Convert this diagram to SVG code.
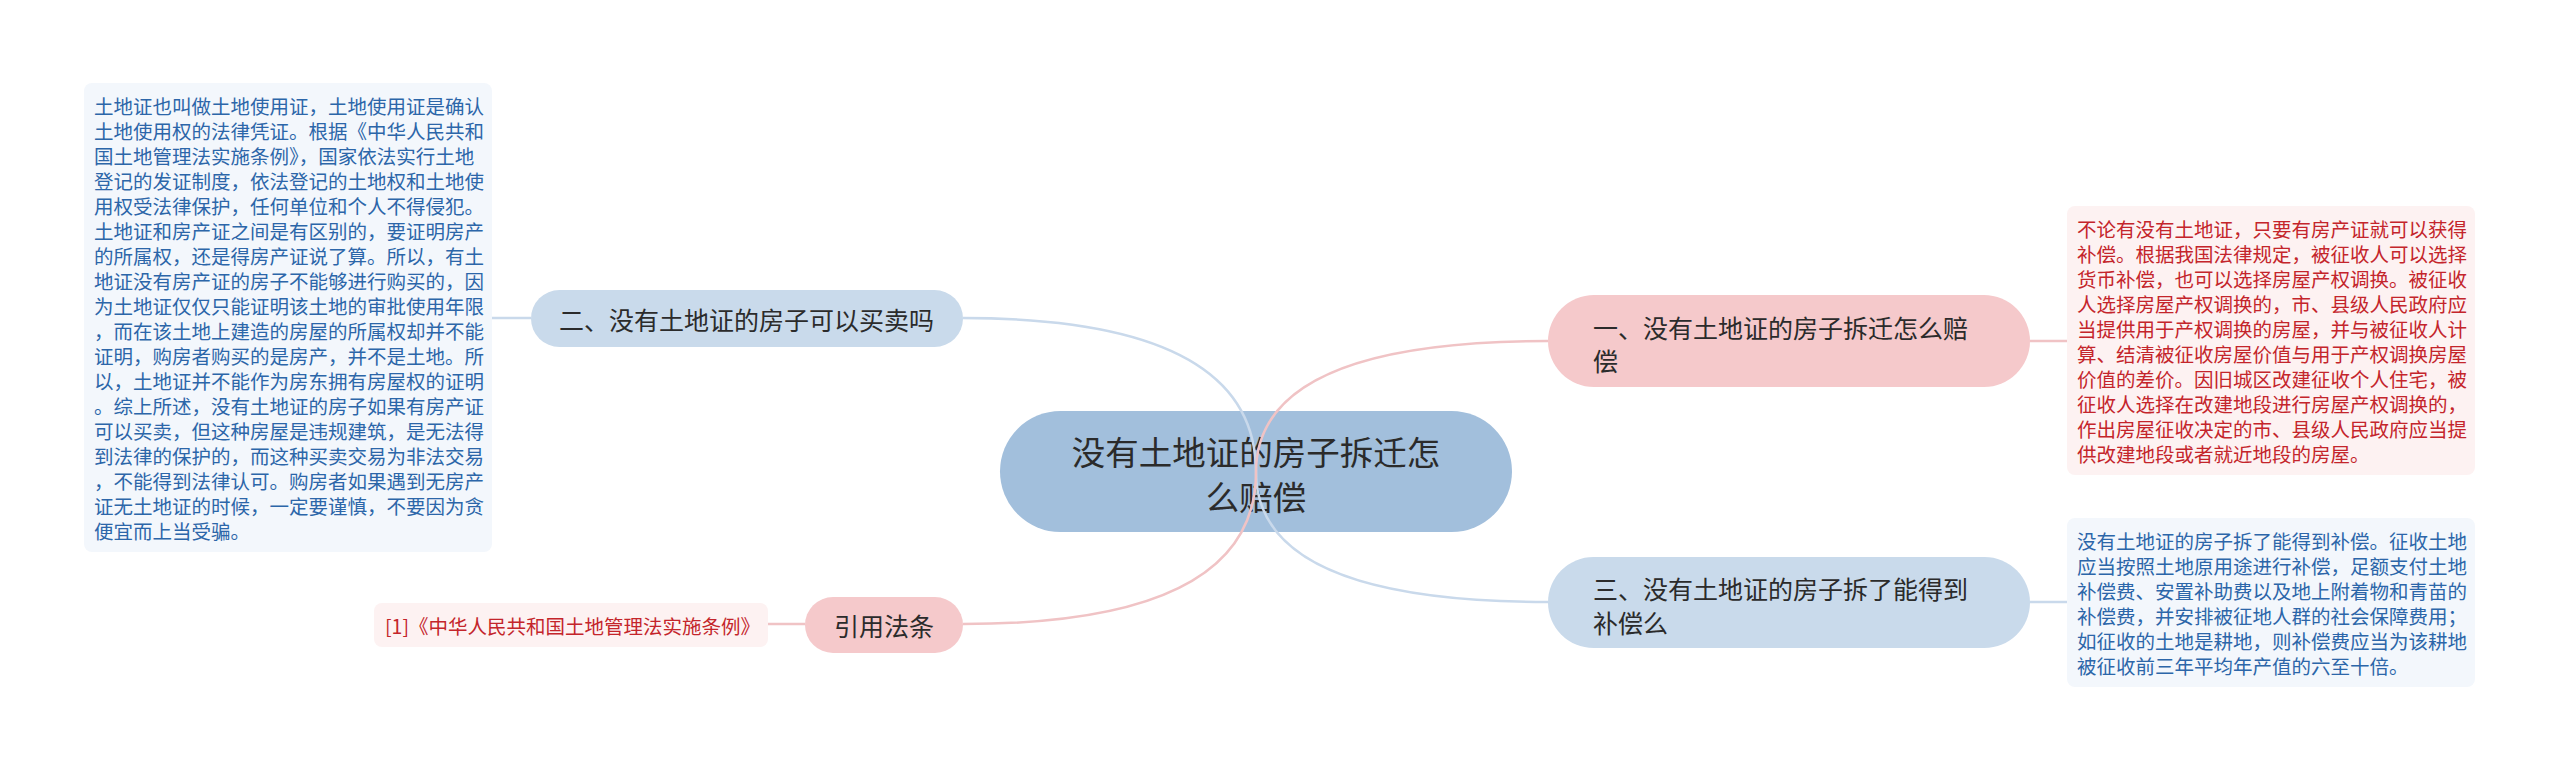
<svg xmlns="http://www.w3.org/2000/svg" width="2560" height="771" viewBox="0 0 2560 771">
<style>
text{font-family:"Noto Sans CJK SC","Noto Sans",sans-serif;}
.nt{fill:#2b2b2b;font-size:25px;}
.rt{fill:#2b2b2b;font-size:33.5px;}
.bt{fill:#2c66a9;font-size:19.5px;}
.pt{fill:#c4252b;font-size:19.5px;}
.cb{fill:none;stroke:#c9d9eb;stroke-width:2.5;}
.cr{fill:none;stroke:#f0c3c5;stroke-width:2.5;}
.bbox{fill:#f3f7fc;}
.pbox{fill:#fdf2f2;}
</style>
<rect width="2560" height="771" fill="#ffffff"/>
<g id="root">
<rect x="1000" y="411" width="512" height="121" rx="60.5" fill="#a2bfdc"/>
<text class="rt" x="1256" y="450" text-anchor="middle" dominant-baseline="central">没有土地证的房子拆迁怎</text>
<text class="rt" x="1256" y="495" text-anchor="middle" dominant-baseline="central">么赔偿</text>
</g>
<g id="connectors">
<path class="cb" d="M1256 472 Q1256 318 963 318"/>
<path class="cb" d="M1256 472 Q1256 602 1548 602"/>
<path class="cr" d="M1256 472 Q1256 341 1548 341"/>
<path class="cr" d="M1256 472 Q1256 624 963 624"/>
<path class="cb" d="M492 318 H531"/>
<path class="cr" d="M768 624 H805"/>
<path class="cr" d="M2030 341 H2067"/>
<path class="cb" d="M2030 602 H2067"/>
</g>
<g id="node-2">
<rect x="531" y="290" width="432" height="57" rx="28.5" fill="#c9daeb"/>
<text class="nt" x="559" y="319" dominant-baseline="central">二、没有土地证的房子可以买卖吗</text>
</g>
<g id="node-2-detail">
<rect class="bbox" x="84" y="83" width="408" height="469" rx="8"/>
<text class="bt" x="94" dominant-baseline="central">
<tspan x="94" y="105">土地证也叫做土地使用证，土地使用证是确认</tspan>
<tspan x="94" y="130">土地使用权的法律凭证。根据《中华人民共和</tspan>
<tspan x="94" y="155">国土地管理法实施条例》，国家依法实行土地</tspan>
<tspan x="94" y="180">登记的发证制度，依法登记的土地权和土地使</tspan>
<tspan x="94" y="205">用权受法律保护，任何单位和个人不得侵犯。</tspan>
<tspan x="94" y="230">土地证和房产证之间是有区别的，要证明房产</tspan>
<tspan x="94" y="255">的所属权，还是得房产证说了算。所以，有土</tspan>
<tspan x="94" y="280">地证没有房产证的房子不能够进行购买的，因</tspan>
<tspan x="94" y="305">为土地证仅仅只能证明该土地的审批使用年限</tspan>
<tspan x="94" y="330">，而在该土地上建造的房屋的所属权却并不能</tspan>
<tspan x="94" y="355">证明，购房者购买的是房产，并不是土地。所</tspan>
<tspan x="94" y="380">以，土地证并不能作为房东拥有房屋权的证明</tspan>
<tspan x="94" y="405">。综上所述，没有土地证的房子如果有房产证</tspan>
<tspan x="94" y="430">可以买卖，但这种房屋是违规建筑，是无法得</tspan>
<tspan x="94" y="455">到法律的保护的，而这种买卖交易为非法交易</tspan>
<tspan x="94" y="480">，不能得到法律认可。购房者如果遇到无房产</tspan>
<tspan x="94" y="505">证无土地证的时候，一定要谨慎，不要因为贪</tspan>
<tspan x="94" y="530">便宜而上当受骗。</tspan>
</text>
</g>
<g id="node-ref">
<rect x="805" y="597" width="158" height="56" rx="28" fill="#f5c9cb"/>
<text class="nt" x="884" y="625" text-anchor="middle" dominant-baseline="central">引用法条</text>
</g>
<g id="node-ref-detail">
<rect class="pbox" x="374" y="603" width="394" height="44" rx="8"/>
<text class="pt" x="385" y="625" dominant-baseline="central">[1]《中华人民共和国土地管理法实施条例》</text>
</g>
<g id="node-1">
<rect x="1548" y="295" width="482" height="92" rx="46" fill="#f5c9cb"/>
<text class="nt" x="1593" y="327" dominant-baseline="central">一、没有土地证的房子拆迁怎么赔</text>
<text class="nt" x="1593" y="360" dominant-baseline="central">偿</text>
</g>
<g id="node-1-detail">
<rect class="pbox" x="2067" y="206" width="408" height="269" rx="8"/>
<text class="pt" dominant-baseline="central">
<tspan x="2077" y="228">不论有没有土地证，只要有房产证就可以获得</tspan>
<tspan x="2077" y="253">补偿。根据我国法律规定，被征收人可以选择</tspan>
<tspan x="2077" y="278">货币补偿，也可以选择房屋产权调换。被征收</tspan>
<tspan x="2077" y="303">人选择房屋产权调换的，市、县级人民政府应</tspan>
<tspan x="2077" y="328">当提供用于产权调换的房屋，并与被征收人计</tspan>
<tspan x="2077" y="353">算、结清被征收房屋价值与用于产权调换房屋</tspan>
<tspan x="2077" y="378">价值的差价。因旧城区改建征收个人住宅，被</tspan>
<tspan x="2077" y="403">征收人选择在改建地段进行房屋产权调换的，</tspan>
<tspan x="2077" y="428">作出房屋征收决定的市、县级人民政府应当提</tspan>
<tspan x="2077" y="453">供改建地段或者就近地段的房屋。</tspan>
</text>
</g>
<g id="node-3">
<rect x="1548" y="557" width="482" height="91" rx="45.5" fill="#c9daeb"/>
<text class="nt" x="1593" y="588" dominant-baseline="central">三、没有土地证的房子拆了能得到</text>
<text class="nt" x="1593" y="622" dominant-baseline="central">补偿么</text>
</g>
<g id="node-3-detail">
<rect class="bbox" x="2067" y="518" width="408" height="169" rx="8"/>
<text class="bt" dominant-baseline="central">
<tspan x="2077" y="540">没有土地证的房子拆了能得到补偿。征收土地</tspan>
<tspan x="2077" y="565">应当按照土地原用途进行补偿，足额支付土地</tspan>
<tspan x="2077" y="590">补偿费、安置补助费以及地上附着物和青苗的</tspan>
<tspan x="2077" y="615">补偿费，并安排被征地人群的社会保障费用；</tspan>
<tspan x="2077" y="640">如征收的土地是耕地，则补偿费应当为该耕地</tspan>
<tspan x="2077" y="665">被征收前三年平均年产值的六至十倍。</tspan>
</text>
</g>
</svg>
